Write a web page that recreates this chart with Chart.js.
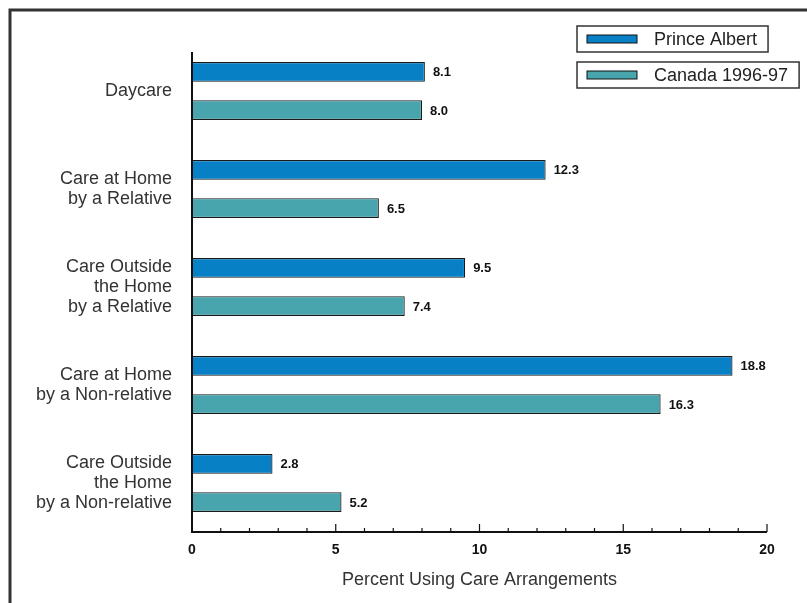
<!DOCTYPE html>
<html>
<head>
<meta charset="utf-8">
<script src="https://cdn.jsdelivr.net/npm/chart.js@4.4.0/dist/chart.umd.min.js"></script>
<style>
  html, body { margin: 0; padding: 0; background: #fff; }
  #wrap { position: relative; width: 807px; height: 603px; }
</style>
</head>
<body>
<div id="wrap"><canvas id="chart" width="807" height="603"></canvas></div>
<script>
const categories = [
  ['Daycare'],
  ['Care at Home', 'by a Relative'],
  ['Care Outside', 'the Home', 'by a Relative'],
  ['Care at Home', 'by a Non-relative'],
  ['Care Outside', 'the Home', 'by a Non-relative']
];
const princeAlbert = [8.1, 12.3, 9.5, 18.8, 2.8];
const canada = [8.0, 6.5, 7.4, 16.3, 5.2];
const seriesNames = ['Prince Albert', 'Canada 1996-97'];
const xTicks = [0, 5, 10, 15, 20];

const FONT = '"Liberation Sans", Arial, Helvetica, sans-serif';

function noScalePadding(scale) {
  scale.paddingTop = 0;
  scale.paddingBottom = 0;
  scale.paddingLeft = 0;
  scale.paddingRight = 0;
}

// frame, axis lines, ticks, value labels and boxed legend
const decorations = {
  id: 'decorations',
  afterDraw(chart) {
    const ctx = chart.ctx;
    const area = chart.chartArea;
    const x = chart.scales.x;
    ctx.save();

    // outer frame (top and left only)
    ctx.strokeStyle = '#333';
    ctx.lineWidth = 3;
    ctx.beginPath();
    ctx.moveTo(10, 603);
    ctx.lineTo(10, 10);
    ctx.lineTo(807, 10);
    ctx.stroke();

    // axes
    const x0 = x.getPixelForValue(0);
    const x1 = x.getPixelForValue(20);
    const yb = area.bottom;
    ctx.strokeStyle = '#111';
    ctx.lineWidth = 2;
    ctx.beginPath();
    ctx.moveTo(x0, 52);
    ctx.lineTo(x0, yb);
    ctx.lineTo(x1, yb);
    ctx.stroke();

    ctx.lineWidth = 1.2;
    ctx.beginPath();
    for (let v = 1; v <= 20; v++) {
      const px = x.getPixelForValue(v);
      const len = v % 5 === 0 ? 8 : 4;
      ctx.moveTo(px, yb);
      ctx.lineTo(px, yb - len);
    }
    ctx.stroke();

    // value labels
    ctx.fillStyle = '#111';
    ctx.font = 'bold 13px ' + FONT;
    ctx.textBaseline = 'middle';
    ctx.textAlign = 'left';
    chart.data.datasets.forEach((ds, i) => {
      chart.getDatasetMeta(i).data.forEach((bar, j) => {
        ctx.fillText(ds.data[j].toFixed(1), bar.x + 8, bar.y + 1);
      });
    });

    // legend
    ctx.font = '18px ' + FONT;
    chart.data.datasets.forEach((ds, i) => {
      const top = 26 + i * 36;
      const tx = 654;
      const w = ctx.measureText(ds.label).width;
      ctx.strokeStyle = '#333';
      ctx.lineWidth = 1.5;
      ctx.strokeRect(577, top, tx + w + 11 - 577, 26);
      ctx.fillStyle = ds.backgroundColor;
      ctx.fillRect(587, top + 9, 50, 8);
      ctx.strokeStyle = '#111';
      ctx.lineWidth = 1;
      ctx.strokeRect(587, top + 9, 50, 8);
      ctx.fillStyle = '#222';
      ctx.fillText(ds.label, tx, top + 14);
    });

    ctx.restore();
  }
};

new Chart(document.getElementById('chart'), {
  type: 'bar',
  data: {
    labels: categories,
    datasets: [
      {
        label: seriesNames[0],
        data: princeAlbert,
        backgroundColor: '#0880C6',
        borderColor: '#1a1a1a',
        borderWidth: 1.2
      },
      {
        label: seriesNames[1],
        data: canada,
        backgroundColor: '#49A5AD',
        borderColor: '#1a1a1a',
        borderWidth: 1.2
      }
    ]
  },
  options: {
    indexAxis: 'y',
    responsive: false,
    animation: false,
    events: [],
    layout: { autoPadding: false, padding: { left: 0, right: 40, top: 42, bottom: 0 } },
    datasets: {
      bar: { categoryPercentage: 0.78, barPercentage: 0.52 }
    },
    plugins: {
      legend: { display: false },
      tooltip: { enabled: false }
    },
    scales: {
      x: {
        min: 0,
        max: 20,
        afterFit(scale) { scale.height = 71; noScalePadding(scale); },
        afterBuildTicks(scale) { scale.ticks = xTicks.map(v => ({ value: v })); },
        grid: { display: false, drawTicks: false },
        border: { display: false },
        ticks: {
          padding: 10,
          color: '#111',
          font: { family: FONT, size: 14, weight: 'bold' }
        },
        title: {
          display: true,
          text: 'Percent Using Care Arrangements',
          color: '#333',
          font: { family: FONT, size: 18 },
          padding: { top: 4, bottom: 12 }
        }
      },
      y: {
        afterFit(scale) { scale.width = 192; noScalePadding(scale); },
        grid: { display: false, drawTicks: false },
        border: { display: false },
        ticks: {
          padding: 20,
          crossAlign: 'near',
          color: '#333',
          font: { family: FONT, size: 18, lineHeight: 1.12 }
        }
      }
    }
  },
  plugins: [decorations]
});
</script>
</body>
</html>
